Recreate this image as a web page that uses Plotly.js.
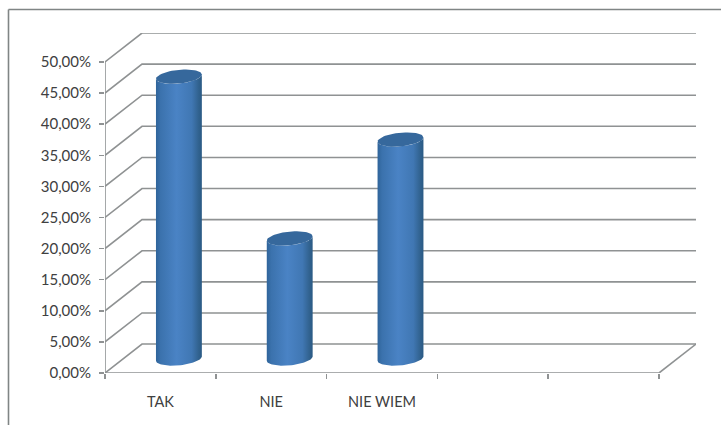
<!DOCTYPE html>
<html>
<head>
<meta charset="utf-8">
<script src="https://cdn.plot.ly/plotly-3.0.1.min.js"></script>
<style>html,body{margin:0;padding:0;background:#fff}#chart{width:721px;height:425px}</style>
</head>
<body>
<div id="chart"></div>
<script>
// Survey answers and their shares, in percent
const categories = ['TAK', 'NIE', 'NIE WIEM'];
const values = [45.3, 19.3, 35.2];
const yTicks = [0, 5, 10, 15, 20, 25, 30, 35, 40, 45, 50];
const yTickLabels = ['0,00%', '5,00%', '10,00%', '15,00%', '20,00%', '25,00%', '30,00%', '35,00%', '40,00%', '45,00%', '50,00%'];
const xSlots = [0, 1, 2, 3, 4, 5];

// Pseudo-3D depth of the box, in axis units
const depthX = 0.334, depthY = 4.65;
// Cylinder shape, in axis units
const radiusX = 0.207, ellipseY = 1.1, tiltY = 0.34;
const gridColor = '#8f9293';

function line(xs, ys, color) {
  return {x: xs, y: ys, mode: 'lines', type: 'scatter', hoverinfo: 'skip', showlegend: false,
          cliponaxis: false, line: {color: color || gridColor, width: 1.6}};
}

const traces = [];
// Back wall gridlines with their diagonals on the side wall
yTicks.forEach(v => {
  traces.push(line([0, depthX, 5 + depthX], [v, v + depthY, v + depthY]));
});
// Floor edge, front vertical axis and right floor diagonal
traces.push(line([0, 5], [0, 0]));
traces.push(line([0, 0], [0, 50]));
traces.push(line([5, 5 + depthX], [0, depthY]));

// Point on a tilted ellipse around (cx, cy)
function ellipsePoint(cx, cy, t) {
  return [cx + radiusX * Math.cos(t), cy + ellipseY * Math.sin(t) + tiltY * Math.cos(t)];
}

values.forEach((v, i) => {
  const cx = i + 0.5 + depthX / 2, base = depthY / 2, top = base + v;
  const xs = [], ys = [];
  // Lower rim from left to right, then upper rim from right back to left
  for (let k = 0; k <= 40; k++) {
    const p = ellipsePoint(cx, base, Math.PI + k / 40 * Math.PI);
    xs.push(p[0]); ys.push(p[1]);
  }
  for (let k = 0; k <= 40; k++) {
    const p = ellipsePoint(cx, top, -k / 40 * Math.PI);
    xs.push(p[0]); ys.push(p[1]);
  }
  xs.push(xs[0]); ys.push(ys[0]);
  traces.push({
    x: xs, y: ys, type: 'scatter', mode: 'lines', fill: 'toself', hoverinfo: 'skip', showlegend: false,
    line: {width: 0, color: 'rgba(0,0,0,0)'},
    fillgradient: {
      type: 'horizontal',
      colorscale: [[0, '#2f649a'], [0.1, '#3b72ad'], [0.45, '#4a83c5'], [0.78, '#4077b3'], [0.93, '#31628f'], [1, '#2a5a84']]
    }
  });
  const capX = [], capY = [];
  for (let k = 0; k <= 60; k++) {
    const p = ellipsePoint(cx, top, k / 60 * 2 * Math.PI);
    capX.push(p[0]); capY.push(p[1]);
  }
  traces.push({
    x: capX, y: capY, type: 'scatter', mode: 'lines', fill: 'toself', hoverinfo: 'skip', showlegend: false,
    line: {width: 0, color: 'rgba(0,0,0,0)'}, fillcolor: '#36689c'
  });
});

// Invisible carrier for the category labels, centred in their slots
traces.push({
  x: categories.map((c, i) => i + 0.5), y: categories.map(() => 0), xaxis: 'x2',
  type: 'scatter', mode: 'markers', marker: {opacity: 0}, hoverinfo: 'skip', showlegend: false
});

const font = {family: 'Lato, Liberation Sans, sans-serif', size: 15, color: '#404040'};
const xRange = [0, 5 + depthX];
const layout = {
  width: 721, height: 425,
  margin: {l: 105, r: 25, t: 33, b: 52},
  paper_bgcolor: '#fff', plot_bgcolor: 'rgba(0,0,0,0)',
  showlegend: false,
  xaxis: {
    type: 'linear', range: xRange, tickmode: 'array', tickvals: xSlots, ticktext: xSlots.map(() => ''),
    ticks: 'outside', ticklen: 5, tickwidth: 1.5, tickcolor: gridColor,
    showgrid: false, zeroline: false, showline: false, fixedrange: true
  },
  xaxis2: {
    type: 'linear', range: xRange, overlaying: 'x', side: 'bottom', tickmode: 'array',
    tickvals: categories.map((c, i) => i + 0.5), ticktext: categories,
    ticks: '', ticklabelstandoff: 18, tickfont: {family: font.family, size: 14.5, color: font.color},
    showgrid: false, zeroline: false, showline: false, fixedrange: true
  },
  yaxis: {
    type: 'linear', range: [0, 50 + depthY], tickmode: 'array', tickvals: yTicks, ticktext: yTickLabels,
    ticks: 'outside', ticklen: 5, tickwidth: 1.5, tickcolor: gridColor, tickfont: font, ticklabelstandoff: 5,
    showgrid: false, zeroline: false, showline: false, fixedrange: true
  },
  // Chart frame: only the top and left edges are visible
  shapes: [
    {type: 'line', xref: 'paper', yref: 'paper', layer: 'below',
     x0: (8.5 - 105) / 591, x1: (721 - 105) / 591, y0: (373 - 9.5) / 340, y1: (373 - 9.5) / 340,
     line: {color: '#808585', width: 1.6}},
    {type: 'line', xref: 'paper', yref: 'paper', layer: 'below',
     x0: (8.5 - 105) / 591, x1: (8.5 - 105) / 591, y0: (373 - 9.5) / 340, y1: (373 - 425) / 340,
     line: {color: '#808585', width: 1.6}}
  ]
};

Plotly.newPlot('chart', traces, layout, {displayModeBar: false, staticPlot: true});
</script>
</body>
</html>
